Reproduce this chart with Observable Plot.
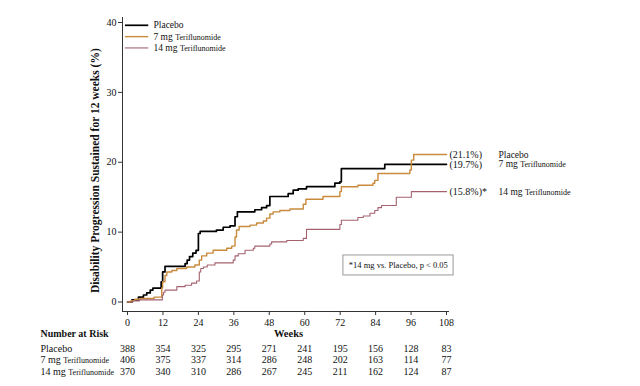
<!DOCTYPE html>
<html>
<head>
<meta charset="utf-8">
<script src="https://cdn.jsdelivr.net/npm/d3@7"></script>
<script src="https://cdn.jsdelivr.net/npm/@observablehq/plot@0.6"></script>
<style>
  body { margin: 0; background: #fff; }
  #chart svg { display: block; }
</style>
</head>
<body>
<div id="chart"></div>
<script>
// ---- Data ----
const seriesNames = ["Placebo", "7 mg Teriflunomide", "14 mg Teriflunomide"];

const placeboWeeks = [0, 1.5, 3.7, 5.4, 6.5, 7.7, 8.6, 11.4, 11.9, 12.7, 19.5, 20.2, 21, 22.1, 23.2, 24.0, 24.6, 30.1, 32.4, 34.7, 36.4, 37.2, 43.1, 45.4, 47.1, 48.2, 54.4, 56.1, 57.8, 60.6, 70.2, 71.9, 72.4, 87.1, 108];
const placeboPct   = [0, 0.3, 0.7, 1.0, 1.3, 1.7, 2.0, 2.9, 4.3, 5.1, 5.5, 6.0, 6.5, 7.0, 7.4, 9.8, 10.1, 10.3, 10.7, 10.9, 12.2, 12.9, 13.2, 13.5, 13.8, 15.1, 15.5, 16.0, 16.2, 16.5, 17.0, 17.2, 19.1, 19.7, 19.7];

const teri7Weeks = [0, 1.2, 2.5, 4.5, 9.0, 11.6, 11.9, 12.7, 13.3, 15.0, 16.7, 20.0, 22.8, 24.3, 25.1, 26.8, 29.0, 33.6, 35.3, 36.4, 36.9, 37.8, 41.5, 43.7, 46.0, 47.1, 48.2, 49.3, 51.6, 55.0, 59.5, 60.4, 66.2, 71.9, 72.4, 78.0, 83.1, 83.7, 84.8, 95.6, 96.1, 96.9, 108];
const teri7Pct   = [0, 0.2, 0.4, 0.5, 0.7, 2.0, 2.9, 3.8, 4.3, 4.5, 4.8, 5.0, 5.3, 6.0, 6.6, 7.0, 7.4, 7.7, 8.0, 9.3, 10.3, 10.8, 11.0, 11.3, 11.6, 12.0, 12.6, 12.9, 13.1, 13.3, 14.0, 14.7, 15.1, 15.8, 16.5, 16.7, 17.0, 17.4, 18.4, 18.9, 20.3, 21.1, 21.1];

const teri14Weeks = [0, 1.8, 4.0, 11.8, 12.2, 12.7, 16.7, 19.5, 21.7, 23.4, 24.3, 24.8, 25.7, 27.0, 29.6, 35.8, 36.4, 37.5, 39.8, 42.6, 43.1, 48.2, 48.8, 53.9, 59.5, 60.6, 71.9, 72.4, 78.0, 79.8, 82.1, 83.7, 84.8, 86.0, 91.0, 96.1, 108];
const teri14Pct   = [0, 0.15, 0.3, 1.0, 1.4, 1.7, 2.2, 2.4, 2.7, 3.0, 4.3, 4.8, 5.0, 5.3, 5.6, 6.0, 6.6, 6.9, 7.4, 7.7, 8.0, 8.3, 8.6, 8.8, 9.1, 10.4, 11.1, 11.7, 12.1, 12.3, 12.7, 13.1, 13.5, 13.8, 15.0, 15.8, 15.8];

const weekTicks = [0, 12, 24, 36, 48, 60, 72, 84, 96, 108];
const pctTicks = [0, 10, 20, 30, 40];

const riskPlacebo = [388, 354, 325, 295, 271, 241, 195, 156, 128, 83];
const risk7mg     = [406, 375, 337, 314, 286, 248, 202, 163, 114, 77];
const risk14mg    = [370, 340, 310, 286, 267, 245, 211, 162, 124, 87];

const endLabels = ["(21.1%)", "(19.7%)", "(15.8%)*"];
const endValues = [21.1, 19.7, 15.8];
const endNames  = ["Placebo", "7 mg Teriflunomide", "14 mg Teriflunomide"];

const footnote = "*14 mg vs. Placebo, p < 0.05";
const yTitle = "Disability Progression Sustained for 12 weeks (%)";

// ---- Styles ----
const colors = ["#000000", "#c98a3c", "#a4626f"];
const widths = [1.7, 1.4, 1.1];

// ---- Build tables ----
const curveWeeks = [placeboWeeks, teri7Weeks, teri14Weeks];
const curvePct = [placeboPct, teri7Pct, teri14Pct];
const curves = curveWeeks.map((wk, s) => wk.map((w, i) => ({series: seriesNames[s], s, week: w, pct: curvePct[s][i]})));

const riskRows = [riskPlacebo, risk7mg, risk14mg].map((arr, r) =>
  weekTicks.map((w, i) => ({week: w, n: arr[i], r})));

const legendRows = seriesNames.map((name, i) => ({name, i, y: 39.6 - i * 1.62}));
const ends = endLabels.map((t, i) => ({t, v: endValues[i], name: endNames[i]}));

const marks = [];
// axis lines
marks.push(Plot.frame({anchor: "left", stroke: "#333", strokeWidth: 1}));
marks.push(Plot.frame({anchor: "bottom", stroke: "#333", strokeWidth: 1}));
marks.push(Plot.axisY(pctTicks, {tickSize: 4, tickPadding: 2, fontSize: 10, label: null, tickFormat: d => d, stroke: "#333"}));
marks.push(Plot.axisX(weekTicks, {tickSize: 4, tickPadding: 3, fontSize: 10, label: null, tickFormat: d => d, stroke: "#333"}));

// curves
curves.forEach((c, s) => {
  marks.push(Plot.line(c, {x: "week", y: "pct", curve: "step-after", stroke: colors[s], strokeWidth: widths[s]}));
});

// legend (top-left)
legendRows.forEach((row, i) => {
  marks.push(Plot.ruleY([row], {y: "y", x1: -0.7, x2: 7.2, stroke: colors[i], strokeWidth: widths[i]}));
});
marks.push(Plot.text(legendRows, {x: 8.8, y: "y", text: "name", textAnchor: "start", fontSize: 9.5, fill: "#111"}));

// end labels
marks.push(Plot.text(ends, {x: 108, y: "v", text: "t", textAnchor: "start", dx: 3, fontSize: 10, fill: "#111"}));
marks.push(Plot.text(ends, {x: 108, y: "v", text: "name", textAnchor: "start", dx: 52, fontSize: 9.5, fill: "#111"}));

// footnote box
marks.push(Plot.rect([0], {x1: 73.1, x2: 110.4, y1: 3.8, y2: 6.66, fill: "white", stroke: "#999", strokeWidth: 1}));
marks.push(Plot.text([footnote], {x: 91.7, y: 5.2, text: d => d, fontSize: 8.5, fill: "#111"}));

// y title
marks.push(Plot.text([yTitle], {frameAnchor: "left", y: 18.8, dx: -27, rotate: -90, textAnchor: "middle", text: d => d, fontSize: 11.5, fontWeight: "bold", fill: "#111"}));

// Number at risk table
marks.push(Plot.text(["Number at Risk"], {frameAnchor: "left", y: 0, dx: -82, dy: 32, text: d => d, textAnchor: "start", fontWeight: "bold", fontSize: 10, fill: "#111"}));
marks.push(Plot.text(["Weeks"], {x: 54.5, y: 0, dy: 32, text: d => d, fontWeight: "bold", fontSize: 10.5, fill: "#111"}));
const rowDy = [46.5, 58, 69.5];
seriesNames.forEach((name, r) => {
  marks.push(Plot.text([name], {frameAnchor: "left", y: 0, dx: -82, dy: rowDy[r], text: d => d, textAnchor: "start", fontSize: 10, fill: "#111"}));
  marks.push(Plot.text(riskRows[r], {x: "week", y: 0, dy: rowDy[r], text: "n", fontSize: 10, fill: "#111"}));
});

const chart = Plot.plot({
  width: 640,
  height: 386,
  marginLeft: 122,
  marginRight: 192,
  marginTop: 17,
  marginBottom: 75,
  style: {fontFamily: "'Liberation Serif', 'DejaVu Serif', serif", fontSize: "10px", background: "white", color: "#111"},
  x: {domain: [0, 108], insetLeft: 5, insetRight: 2},
  y: {domain: [0, 40], insetBottom: 9.5, insetTop: 5},
  marks
});

// The reference prints the drug name "Teriflunomide" in a smaller type than the dose.
d3.select(chart).selectAll("text").each(function () {
  const el = d3.select(this);
  if (el.selectAll("tspan").size() > 0) return;
  const t = el.text();
  const m = /^(\d+ mg) (Teriflunomide)$/.exec(t);
  if (!m) return;
  el.text(null);
  el.append("tspan").text(m[1] + " ");
  el.append("tspan").attr("font-size", "8px").text(m[2]);
});

document.getElementById("chart").appendChild(chart);
</script>
</body>
</html>
